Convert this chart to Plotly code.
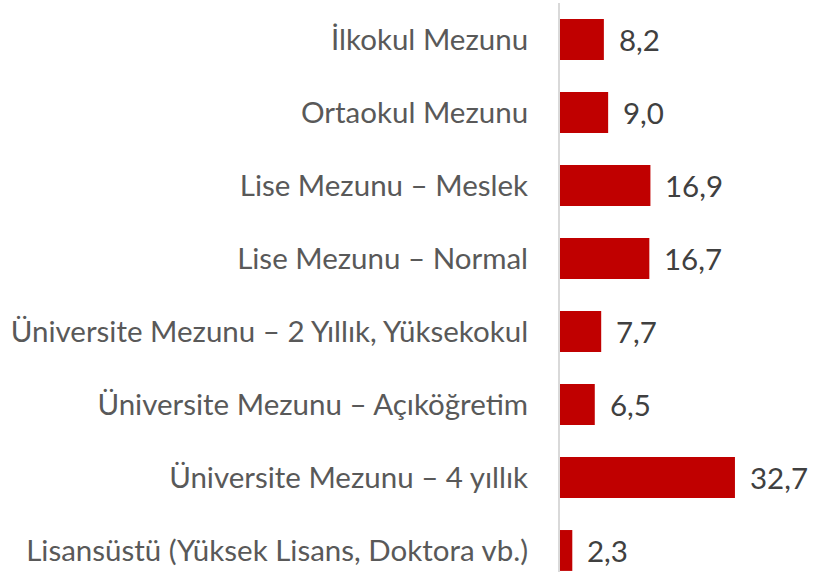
import plotly.graph_objects as go

categories = [
    "İlkokul Mezunu",
    "Ortaokul Mezunu",
    "Lise Mezunu – Meslek",
    "Lise Mezunu – Normal",
    "Üniversite Mezunu – 2 Yıllık, Yüksekokul",
    "Üniversite Mezunu – Açıköğretim",
    "Üniversite Mezunu – 4 yıllık",
    "Lisansüstü (Yüksek Lisans, Doktora vb.)",
]
values = [8.2, 9.0, 16.9, 16.7, 7.7, 6.5, 32.7, 2.3]

FONT = "Lato"
FS = 29.5

fig = go.Figure(go.Bar(
    x=values,
    y=list(range(len(categories))),
    orientation="h",
    marker=dict(color="#C00000", line=dict(width=0)),
    hoverinfo="skip",
))

for i, v in enumerate(values):
    fig.add_annotation(
        x=v, y=i, text=f"{v:.1f}".replace(".", ","),
        xanchor="left", yanchor="middle", xshift=13, showarrow=False,
        font=dict(family=FONT, size=FS, color="#404040"),
    )

fig.update_layout(
    width=815, height=572,
    margin=dict(l=560, r=0, t=3, b=0, autoexpand=False),
    paper_bgcolor="white", plot_bgcolor="white",
    bargap=0.44,
    showlegend=False,
    xaxis=dict(range=[0, 255 / 5.35], visible=False, fixedrange=True, automargin=False),
    yaxis=dict(
        tickmode="array",
        tickvals=list(range(len(categories))),
        ticktext=categories,
        range=[7.295, -0.5],
        automargin=False,
        showgrid=False, zeroline=False,
        showline=True, linecolor="#D9D9D9", linewidth=2,
        ticks="", ticklabelstandoff=24,
        tickfont=dict(family=FONT, size=FS, color="#595959"),
    ),
)

fig.write_html("out.html", config={"displayModeBar": False},
               post_script="document.body.style.margin='0';")
